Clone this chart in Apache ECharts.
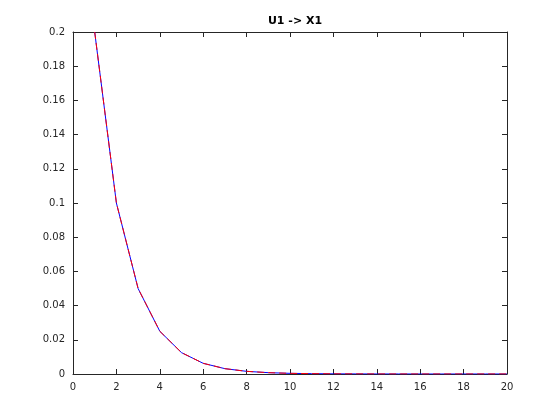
<!DOCTYPE html>
<html><head><meta charset="utf-8">
<script src="https://cdn.jsdelivr.net/npm/echarts@6/dist/echarts.min.js"></script>
<style>html,body{margin:0;padding:0;background:#fff}#c{width:560px;height:420px}</style>
</head><body><div id="c"></div>
<script>
const titleText = 'U1 -> X1';
const xValues = [1,2,3,4,5,6,7,8,9,10,11,12,13,14,15,16,17,18,19,20];
const blueValues = [0.2,0.1,0.05,0.025,0.0125,0.00625,0.003125,0.0015625,0.00078,0.00039,0.0002,0.0001,0.00005,0.000024,0.000012,0.000006,0.000003,0.0000015,0.0000008,0.0000004];
const redValues = [0.2,0.1,0.05,0.025,0.0125,0.00625,0.003125,0.0015625,0.00078,0.00039,0.0002,0.0001,0.00005,0.000024,0.000012,0.000006,0.000003,0.0000015,0.0000008,0.0000004];
const xTicks = [0,2,4,6,8,10,12,14,16,18,20];
const yTicks = [0,0.02,0.04,0.06,0.08,0.1,0.12,0.14,0.16,0.18,0.2];

const chart = echarts.init(document.getElementById('c'), null, {renderer:'canvas'});
const font = 'DejaVu Sans';
const axisLine = {show:true, onZero:false, lineStyle:{color:'#262626', width:1}};
const tickIn = {show:true, inside:true, length:5, lineStyle:{color:'#262626', width:1}};
const fmtY = v => String(Math.round(v*100)/100);
chart.setOption({
  animation:false,
  backgroundColor:'#fff',
  title:{text:titleText, left:290, top:11, textAlign:'center',
    textStyle:{fontFamily:font, fontSize:11, fontWeight:'bold', color:'#000'}},
  grid:{left:73, right:53, top:32, bottom:46, containLabel:false},
  xAxis:[
    {type:'value', min:0, max:20, interval:2, position:'bottom',
     axisLine, axisTick:tickIn, splitLine:{show:false},
     axisLabel:{fontFamily:font, fontSize:10, color:'#262626', margin:8}},
    {type:'value', min:0, max:20, interval:2, position:'top',
     axisLine, axisTick:tickIn, splitLine:{show:false}, axisLabel:{show:false}}
  ],
  yAxis:[
    {type:'value', min:0, max:0.2, interval:0.02, position:'left',
     axisLine, axisTick:tickIn, splitLine:{show:false},
     axisLabel:{fontFamily:font, fontSize:10, color:'#262626', margin:8, formatter:fmtY}},
    {type:'value', min:0, max:0.2, interval:0.02, position:'right',
     axisLine, axisTick:tickIn, splitLine:{show:false}, axisLabel:{show:false}}
  ],
  series:[
    {type:'line', xAxisIndex:0, yAxisIndex:0, symbol:'none', clip:true,
     data:xValues.map((x,i)=>[x, blueValues[i]]),
     lineStyle:{color:'#0000ff', width:1}},
    {type:'line', xAxisIndex:0, yAxisIndex:0, symbol:'none', clip:true,
     data:xValues.map((x,i)=>[x, redValues[i]]),
     lineStyle:{color:'#ff0000', width:1, type:[7,4]}}
  ]
});
</script></body></html>
